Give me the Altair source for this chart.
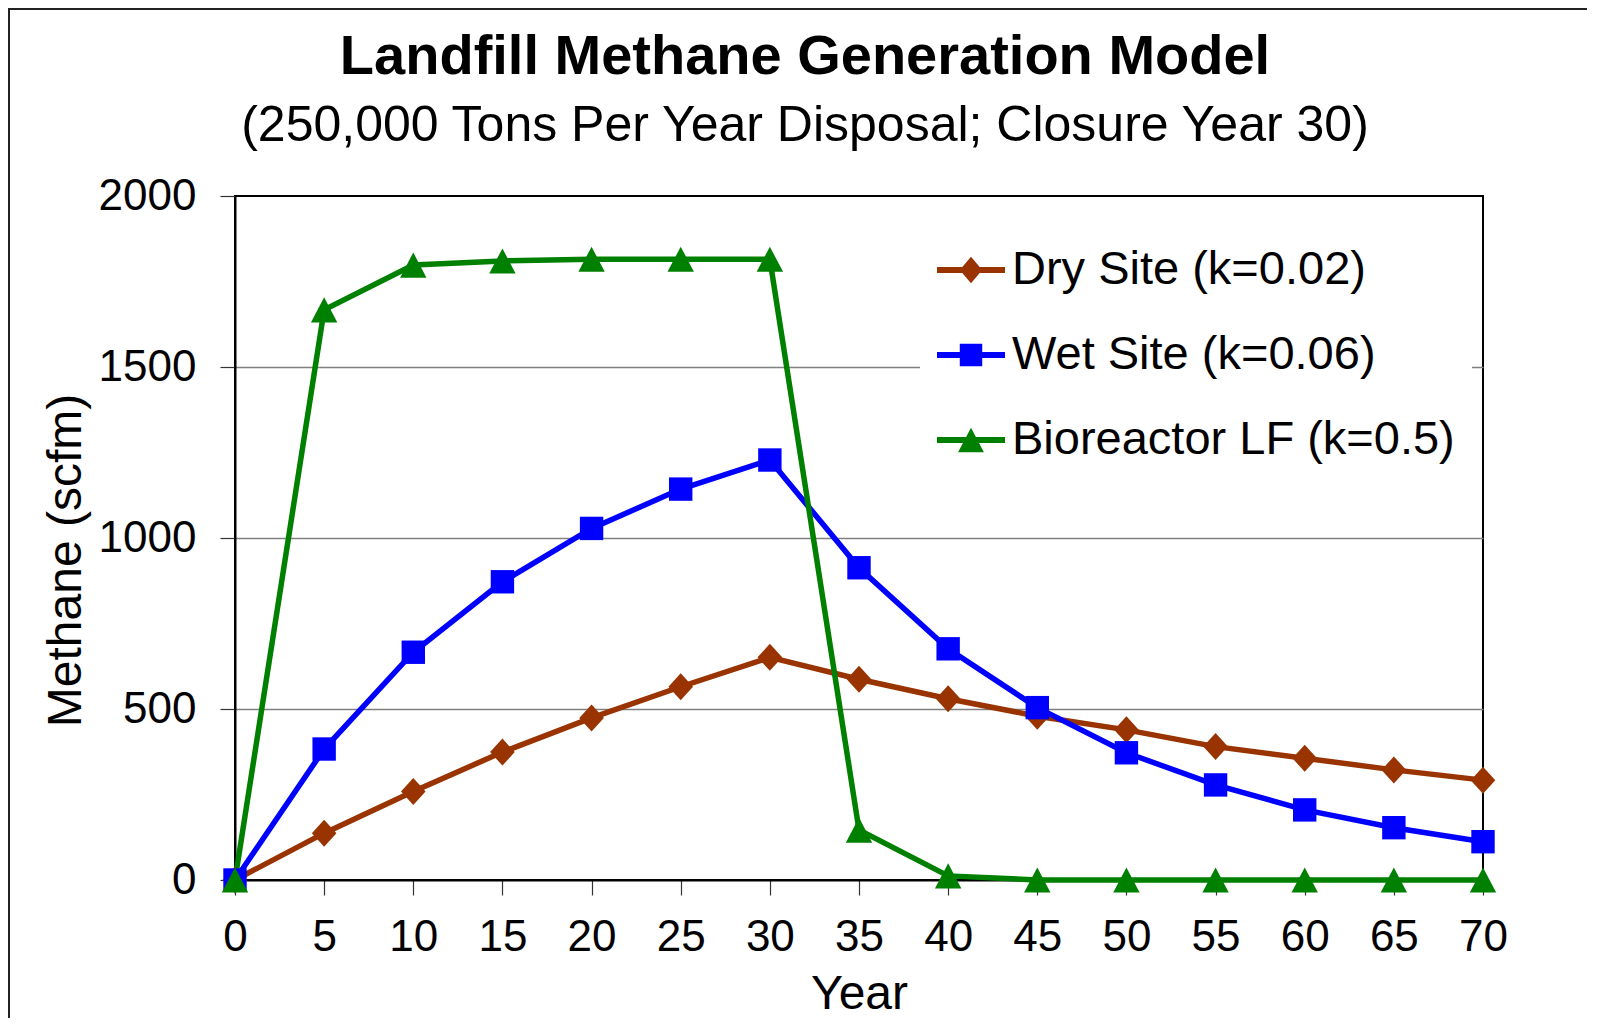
import altair as alt
import pandas as pd

years = [0, 5, 10, 15, 20, 25, 30, 35, 40, 45, 50, 55, 60, 65, 70]
dry_site = [0, 137, 259, 374, 474, 565, 651, 587, 530, 479, 439, 390, 356, 322, 292]
wet_site = [0, 383, 666, 872, 1028, 1143, 1228, 913, 676, 504, 372, 278, 205, 153, 112]
bioreactor = [0, 1667, 1798, 1810, 1815, 1815, 1815, 146, 12, 0, 0, 0, 0, 0, 0]

series_names = ["Dry Site (k=0.02)", "Wet Site (k=0.06)", "Bioreactor LF (k=0.5)"]
series_colors = ["#993300", "#0000FF", "#008000"]
y_ticks = [0, 500, 1000, 1500, 2000]

rows = []
for name, vals in zip(series_names, [dry_site, wet_site, bioreactor]):
    for yr, v in zip(years, vals):
        rows.append({"Year": yr, "Methane": v, "Series": name})
df = pd.DataFrame(rows)

# marker shapes (custom paths, unit box scaled by sqrt(size)/2)
marker_paths = [
    "M0,-0.9L0.82,0L0,0.9L-0.82,0Z",
    "M-0.78,-0.78L0.78,-0.78L0.78,0.78L-0.78,0.78Z",
    "M0,-0.84L0.88,0.84L-0.88,0.84Z",
]
# legend symbols: line segment + marker (unit = 34 px)
line_part = "M-1,-0.09L1,-0.09L1,0.09L-1,0.09Z"
legend_paths = [
    line_part + "M0,-0.39L0.33,0L0,0.39L-0.33,0Z",
    line_part + "M-0.33,-0.33L0.33,-0.33L0.33,0.33L-0.33,0.33Z",
    line_part + "M0,-0.36L0.38,0.36L-0.38,0.36Z",
]

W, H = 1248, 684
PAD = {"left": 227, "top": 188, "right": 104, "bottom": 138}

x_enc = alt.X(
    "Year:Q",
    scale=alt.Scale(domain=[0, 70], nice=False),
    axis=alt.Axis(
        values=years, grid=False, title="Year", labelFontSize=44, titleFontSize=48,
        labelFont="Liberation Sans", titleFont="Liberation Sans", labelColor="black",
        titleColor="black", titleFontWeight="normal", domainColor="black", domainWidth=2,
        tickColor="#333333", tickSize=15, tickWidth=1.2, labelPadding=20,
        labelFlush=False, labelOverlap=False, labelBaseline="top", format="d",
        titleBaseline="alphabetic", titleY=128, titleX=W / 2, titleAlign="center",
    ),
)
y_enc = alt.Y(
    "Methane:Q",
    scale=alt.Scale(domain=[0, 2000], nice=False),
    axis=alt.Axis(
        values=y_ticks, grid=True, gridColor="#808080", gridWidth=1.3, format="d",
        gridOpacity={"condition": {"test": "datum.value == 0 || datum.value == 2000", "value": 0}, "value": 1},
        title="Methane (scfm)", labelFontSize=44, titleFontSize=48,
        labelFont="Liberation Sans", titleFont="Liberation Sans", labelColor="black",
        titleColor="black", titleFontWeight="normal", domainColor="black", domainWidth=2,
        tickColor="#333333", tickSize=15, tickWidth=1.2, labelPadding=24,
        labelFlush=False, labelOverlap=False,
        titleAngle=270, titleBaseline="alphabetic", titleX=-155, titleY=364, titleAlign="center",
    ),
)

lines = alt.Chart(df).mark_line(strokeWidth=5.5).encode(
    x=x_enc, y=y_enc,
    color=alt.Color("Series:N", scale=alt.Scale(domain=series_names, range=series_colors), legend=None),
    detail="Series:N",
)

points = alt.Chart(df).mark_point(filled=True, size=900, opacity=1, strokeWidth=0).encode(
    x="Year:Q", y="Methane:Q",
    color=alt.Color("Series:N", scale=alt.Scale(domain=series_names, range=series_colors), legend=None),
    shape=alt.Shape("Series:N", scale=alt.Scale(domain=series_names, range=marker_paths), legend=None),
)

legend_cfg = dict(
    title=None, orient="none", legendX=685, legendY=23,
    labelFont="Liberation Sans", labelFontSize=47, labelColor="black",
    labelLimit=700, symbolSize=4624, symbolStrokeWidth=0, symbolOpacity=1,
    labelOffset=7, rowPadding=28, padding=17, fillColor="white",
)

legend_layer = alt.Chart(df).mark_point(filled=True, opacity=1, strokeWidth=0).encode(
    x="Year:Q", y="Methane:Q",
    color=alt.Color("Series:N", scale=alt.Scale(domain=series_names, range=series_colors),
                    legend=alt.Legend(**legend_cfg)),
    shape=alt.Shape("Series:N", scale=alt.Scale(domain=series_names, range=legend_paths),
                    legend=alt.Legend(**legend_cfg)),
).transform_filter("false")

frame_top = alt.Chart(pd.DataFrame({"a": [0]})).mark_rule(color="#222222", strokeWidth=2).encode(
    x=alt.value(-PAD["left"]), x2=alt.value(W + PAD["right"]), y=alt.value(-PAD["top"] + 1)
)
frame_left = alt.Chart(pd.DataFrame({"a": [0]})).mark_rule(color="#222222", strokeWidth=2).encode(
    x=alt.value(-PAD["left"] + 1), y=alt.value(-PAD["top"]), y2=alt.value(H + PAD["bottom"])
)

chart = alt.layer(lines, points, legend_layer, frame_top, frame_left).resolve_scale(
    shape="independent", color="independent"
).properties(
    width=W, height=H,
    padding=PAD,
    autosize=alt.AutoSizeParams(type="none"),
    background="white",
    title=alt.TitleParams(
        text="Landfill Methane Generation Model",
        subtitle="(250,000 Tons Per Year Disposal; Closure Year 30)",
        font="Liberation Sans", subtitleFont="Liberation Sans",
        fontSize=56, subtitleFontSize=50, fontWeight="bold",
        color="black", subtitleColor="black",
        anchor="middle", frame="group", dx=-54, dy=171, offset=26, subtitlePadding=15,
    ),
).configure_view(stroke="black", strokeWidth=2)

chart.save("out.html", embed_options={"renderer": "svg", "actions": False})
